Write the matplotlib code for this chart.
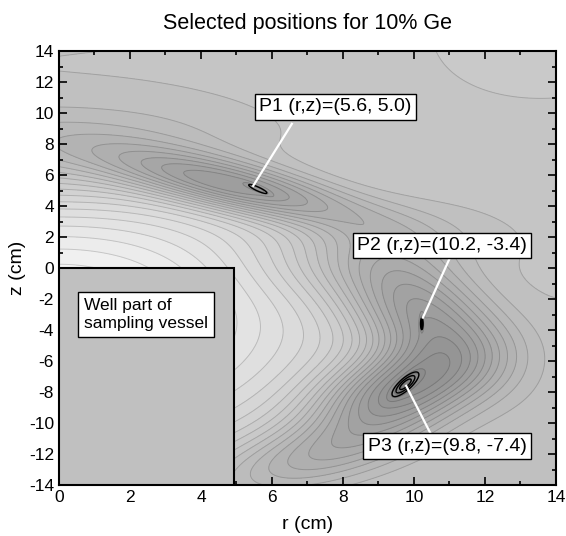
import numpy as np
import matplotlib.pyplot as plt
from matplotlib.patches import Rectangle

plt.rcParams['font.family'] = ['Liberation Sans', 'DejaVu Sans']
plt.rcParams['axes.unicode_minus'] = False

# darkness field anchors (0 = white, 1 = black)
base_level = 0.245

# bright region around the well: r, z, amp, sr, sz, angle
bowl = [0.0, -3.0, -0.22, 5.5, 6.5, 0.0]

# dark band running round the bright region (+ lighter top-right corner)
ridge_r = [0.0, 5.0, 8.6, 10.2, 9.6, 7.3, 14.0]
ridge_z = [7.6, 5.2, 1.0, -3.0, -7.8, -12.0, 16.0]
ridge_amp = [0.08, 0.19, 0.06, 0.17, 0.20, 0.10, -0.03]
ridge_sr = [4.0, 2.7, 1.8, 2.8, 2.2, 2.5, 5.0]
ridge_sz = [2.2, 1.0, 2.2, 1.3, 1.3, 1.3, 7.0]
ridge_ang = [0, -30, -50, -72, 59, 40, 0]

# selected positions (small sharp maxima with black contours)
pos_labels = ['P1 (r,z)=(5.6, 5.0)', 'P2 (r,z)=(10.2, -3.4)', 'P3 (r,z)=(9.8, -7.4)']
pos_r = [5.6, 10.22, 9.76]
pos_z = [5.1, -3.6, -7.5]
pos_amp = [0.04, 0.05, 0.07]
pos_sr = [0.32, 0.38, 0.55]
pos_sz = [0.08, 0.035, 0.14]
pos_ang = [-49, 90, 68]
pos_line_levels = [[0.5], [0.6, 0.8], [0.3, 0.55, 0.8]]

label_r = [7.79, 10.79, 10.93]
label_z = [10.4, 1.45, -11.5]
line_start_r = [6.56, 11.0, 10.45]
line_start_z = [9.3, 0.6, -10.6]
line_end_r = [5.47, 10.25, 9.78]
line_end_z = [5.3, -3.2, -7.6]

well_r = 4.92
well_z = 0.0


def bump(R, Z, r0, z0, amp, sr, sz, ang):
    t = np.deg2rad(ang)
    dr, dz = R - r0, Z - z0
    u = dr * np.cos(t) + dz * np.sin(t)
    v = -dr * np.sin(t) + dz * np.cos(t)
    return amp * np.exp(-0.5 * ((u / sr) ** 2 + (v / sz) ** 2))


r = np.linspace(0, 14, 701)
z = np.linspace(-14, 14, 1401)
R, Z = np.meshgrid(r, z)

D = base_level + bump(R, Z, *bowl)
for i in range(len(ridge_r)):
    D += bump(R, Z, ridge_r[i], ridge_z[i], ridge_amp[i], ridge_sr[i], ridge_sz[i], ridge_ang[i])
peaks = []
for i in range(len(pos_r)):
    p = bump(R, Z, pos_r[i], pos_z[i], pos_amp[i], pos_sr[i], pos_sz[i], pos_ang[i])
    peaks.append(p)
    D += p

fig = plt.figure(figsize=(5.66, 5.36), dpi=100)
ax = fig.add_axes([0.1042, 0.0951, 0.8781, 0.8097])

levels = np.arange(0.0, 0.7, 0.017)
ax.contourf(R, Z, D, levels=levels, cmap='gray_r', vmin=0, vmax=1)
ax.contour(R, Z, D, levels=levels, colors='k', alpha=0.16, linewidths=0.7)
for i, p in enumerate(peaks):
    lv = [f * pos_amp[i] for f in pos_line_levels[i]]
    ax.contour(R, Z, p, levels=lv, colors='k', linewidths=1.0)
ax.contourf(R, Z, peaks[1], levels=[0.8 * pos_amp[1], 1], colors='k')

# well part of the sampling vessel
ax.add_patch(Rectangle((0, -14), well_r, 14 + well_z, facecolor='#c0c0c0',
                       edgecolor='black', linewidth=1.5, zorder=3))
ax.text(0.7, -3.0, 'Well part of\nsampling vessel', fontsize=12.5, va='center', ha='left',
        linespacing=1.25, zorder=4,
        bbox=dict(boxstyle='square,pad=0.35', fc='white', ec='black', lw=1.0))

for i in range(len(pos_labels)):
    ax.plot([line_start_r[i], line_end_r[i]], [line_start_z[i], line_end_z[i]],
            color='white', lw=1.6, zorder=5)
    ax.text(label_r[i], label_z[i], pos_labels[i], fontsize=14, ha='center', va='center',
            zorder=6, bbox=dict(boxstyle='square,pad=0.22', fc='white', ec='black', lw=1.0))

ax.set_xlim(0, 14)
ax.set_ylim(-14, 14)
ax.set_xticks(np.arange(0, 15, 2))
ax.set_yticks(np.arange(-14, 15, 2))
ax.set_xticks(np.arange(0, 15, 1), minor=True)
ax.set_yticks(np.arange(-14, 15, 1), minor=True)
ax.tick_params(which='both', direction='in', top=True, right=True, labelsize=12.5, width=1.2)
ax.tick_params(which='major', length=6)
ax.tick_params(which='minor', length=3)
for s in ax.spines.values():
    s.set_linewidth(1.5)

ax.set_xlabel('r (cm)', fontsize=14, labelpad=8)
ax.set_ylabel('z (cm)', fontsize=14, labelpad=2)
ax.set_title('Selected positions for 10% Ge', fontsize=15.5, pad=16)

fig.savefig('out.png', dpi=100)
